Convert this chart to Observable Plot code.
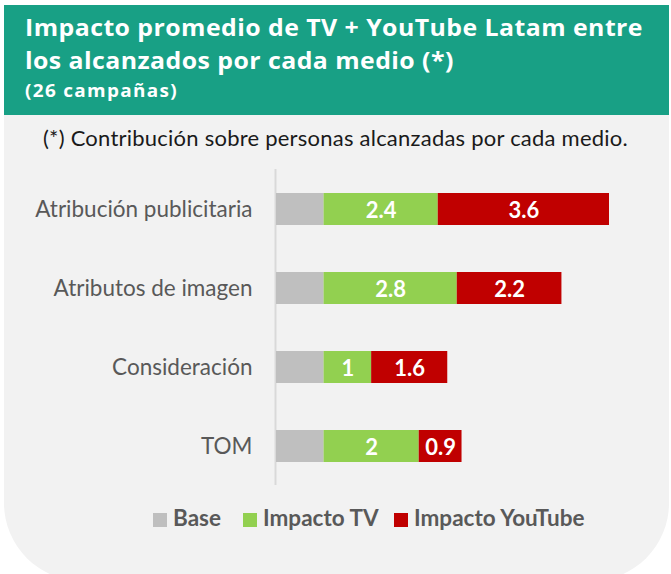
<!DOCTYPE html>
<html>
<head>
<meta charset="utf-8">
<script src="https://cdn.jsdelivr.net/npm/d3@7"></script>
<script src="https://cdn.jsdelivr.net/npm/@observablehq/plot@0.6"></script>
<style>
  html, body { margin: 0; padding: 0; width: 671px; height: 574px; overflow: hidden; background: #ffffff; }
  body { position: relative; font-family: Lato, "Open Sans", sans-serif; }
  #header { position: absolute; left: 4px; top: 5px; width: 665px; height: 110px; background: #18a085; }
  .t { position: absolute; white-space: nowrap; line-height: 1; color: #ffffff; font-weight: 700; font-family: "Open Sans", Lato, sans-serif; transform-origin: 0 0; }
  #panel { position: absolute; left: 4px; top: 115px; width: 665px; height: 466px; background: #f2f2f2; border-radius: 0 0 78px 78px; }
  #sub { position: absolute; left: 43px; top: 127px; font-size: 22px; line-height: 1; color: #1a1a1a; white-space: nowrap; }
  #chart { position: absolute; left: 0; top: 115px; }
  .lg { position: absolute; top: 507px; font-size: 22.5px; line-height: 1; font-weight: 700; color: #595959; white-space: nowrap; }
  .sw { position: absolute; top: 513px; width: 14px; height: 14px; }
</style>
</head>
<body>
<div id="header"></div>
<div id="panel"></div>
<div class="t" style="left:25px; top:16px; font-size:23px;" id="t1">Impacto promedio de TV + YouTube Latam entre</div>
<div class="t" style="left:25px; top:49px; font-size:23px;" id="t2">los alcanzados por cada medio (*)</div>
<div class="t" style="left:25px; top:82px; font-size:17.5px;" id="t3">(26 campañas)</div>
<div id="sub">(*) Contribución sobre personas alcanzadas por cada medio.</div>
<div id="chart"></div>
<div id="legend"></div>
<script>
const categories = ["Atribución publicitaria", "Atributos de imagen", "Consideración", "TOM"];
const series = ["Base", "Impacto TV", "Impacto YouTube"];
const baseValues = [1, 1, 1, 1];
const tvValues = [2.4, 2.8, 1, 2];
const youtubeValues = [3.6, 2.2, 1.6, 0.9];
const colors = ["#bfbfbf", "#92d050", "#c00000"];

// fit text widths to the reference layout (slight horizontal stretch + spacing)
function fit(id, target, scale) {
  const el = document.getElementById(id);
  const w = el.getBoundingClientRect().width;
  const n = el.textContent.length;
  const ls = (target / scale - w) / n;
  el.style.letterSpacing = ls + "px";
  if (scale !== 1) el.style.transform = "scaleX(" + scale + ")";
  return ls;
}
const ls1 = fit("t1", 618, 1.08);
const t2 = document.getElementById("t2");
t2.style.letterSpacing = ls1 + "px";
t2.style.transform = "scaleX(1.08)";
fit("t3", 153, 1.08);
fit("sub", 585, 1);

const valuesBySeries = [baseValues, tvValues, youtubeValues];
const rows = [];
categories.forEach((cat, i) => {
  series.forEach((s, j) => {
    rows.push({category: cat, series: s, value: valuesBySeries[j][i]});
  });
});

const plot = Plot.plot({
  width: 671,
  height: 380,
  marginLeft: 276,
  marginRight: 62,
  marginTop: 54,
  marginBottom: 10,
  style: {background: "transparent", fontFamily: "Lato, 'Open Sans', sans-serif"},
  x: {domain: [0, 7], axis: null},
  y: {domain: categories, paddingInner: 0.595, paddingOuter: 0.2975, label: null},
  color: {domain: series, range: colors},
  marks: [
    Plot.ruleX([0], {stroke: "#d9d9d9", strokeWidth: 2, dx: -1}),
    Plot.barX(rows, Plot.stackX({x: "value", y: "category", fill: "series", order: series})),
    Plot.text(rows, Plot.stackX({
      x: "value", y: "category", z: "series", order: series,
      text: d => d.series === "Base" ? "" : String(d.value),
      fill: "#ffffff", fontSize: 22, fontWeight: 700, dy: 1
    })),
    Plot.axisY({tickSize: 0, tickPadding: 24, fontSize: 22.5, color: "#595959", label: null})
  ]
});
document.getElementById("chart").appendChild(plot);

// legend
const legend = document.getElementById("legend");
const lgPos = [{sq: 153, tx: 173}, {sq: 243, tx: 263}, {sq: 394, tx: 414}];
series.forEach((s, j) => {
  const sw = document.createElement("div");
  sw.className = "sw";
  sw.style.left = lgPos[j].sq + "px";
  sw.style.background = colors[j];
  legend.appendChild(sw);
  const t = document.createElement("div");
  t.className = "lg";
  t.style.left = lgPos[j].tx + "px";
  t.textContent = s;
  legend.appendChild(t);
});
</script>
</body>
</html>
